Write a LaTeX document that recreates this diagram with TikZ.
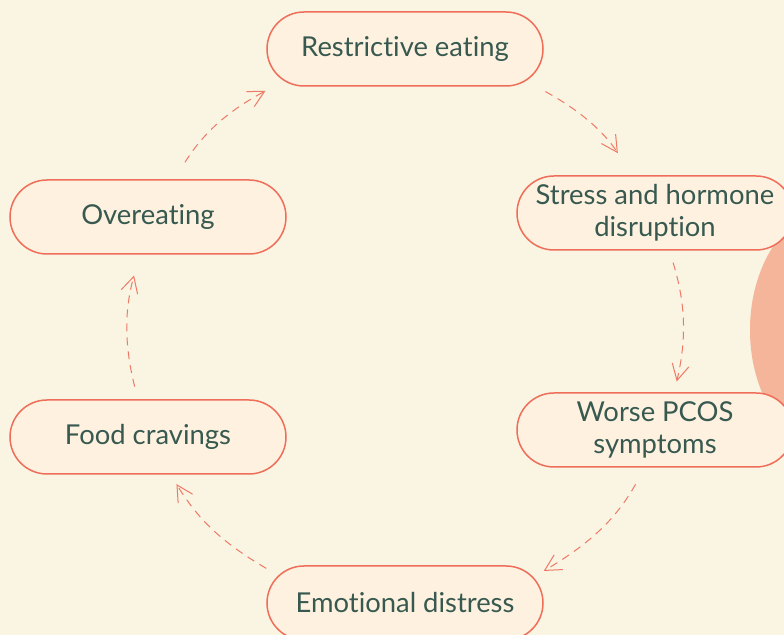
\documentclass[tikz,border=0pt]{standalone}
\usepackage{fontspec}
\setmainfont{Lato}[Ligatures={NoCommon,NoRequired}]
\usetikzlibrary{arrows.meta}
\definecolor{cream}{HTML}{FAF4E2}
\definecolor{peach}{HTML}{FEF1E0}
\definecolor{coral}{HTML}{EE6E5A}
\definecolor{dashcoral}{HTML}{EE7A66}
\definecolor{salmon}{HTML}{F4B59A}
\definecolor{ink}{HTML}{37594F}
\tikzset{
  pill/.style={draw=coral,fill=peach,line width=0.75pt,rounded corners=18.5pt,
    minimum width=138pt,minimum height=37pt,inner sep=0pt,align=center,
    text=ink,font=\fontsize{13.7}{16}\selectfont},
  cyc/.style={draw=dashcoral,line width=0.5pt,dash pattern=on 4pt off 3pt,
    -{Straight Barb[length=8pt,width=8.5pt]}},
}
\begin{document}
\begin{tikzpicture}[x=0.5pt,y=0.5pt]
    %% Background
    \clip (0,0) rectangle (784,-635);
    \fill[cream] (0,0) rectangle (784,-635);
    %% blob behind the right column
    \fill[salmon] (840,-330) ellipse [x radius=90, y radius=125];
    %% Steps
    \node[pill] (restrict) at (405,-49) {Restrictive eating};
    \node[pill] (stress) at (655,-213) {Stress and hormone\\disruption};
    \node[pill] (pcos) at (655,-430) {Worse PCOS\\symptoms};
    \node[pill] (distress) at (405,-603) {Emotional distress};
    \node[pill] (cravings) at (148,-437) {Food cravings};
    \node[pill] (overeat) at (148,-217) {Overeating};
    %% Cycle arrows
    \draw[cyc,shorten <=5pt,shorten >=13.2pt] (restrict.-16) to[bend left=14] (stress.121.9);
    \draw[cyc,shorten <=6.2pt,shorten >=5.5pt] (stress.-69.3) to[bend left=15] (pcos.63.2);
    \draw[cyc,shorten <=9.5pt] (pcos.-105.7) to[bend left=15] (distress.13.8);
    \draw[cyc,shorten >=5.5pt] (distress.166.2) to[bend left=14] (cravings.-59.8);
    \draw[cyc,shorten <=6.5pt,shorten >=10.8pt] (cravings.105.1) to[bend left=15] (overeat.-102.6);
    \draw[cyc,shorten <=10pt,shorten >=4.5pt] (overeat.55.6) to[bend left=15] (restrict.-164);
\end{tikzpicture}
\end{document}
